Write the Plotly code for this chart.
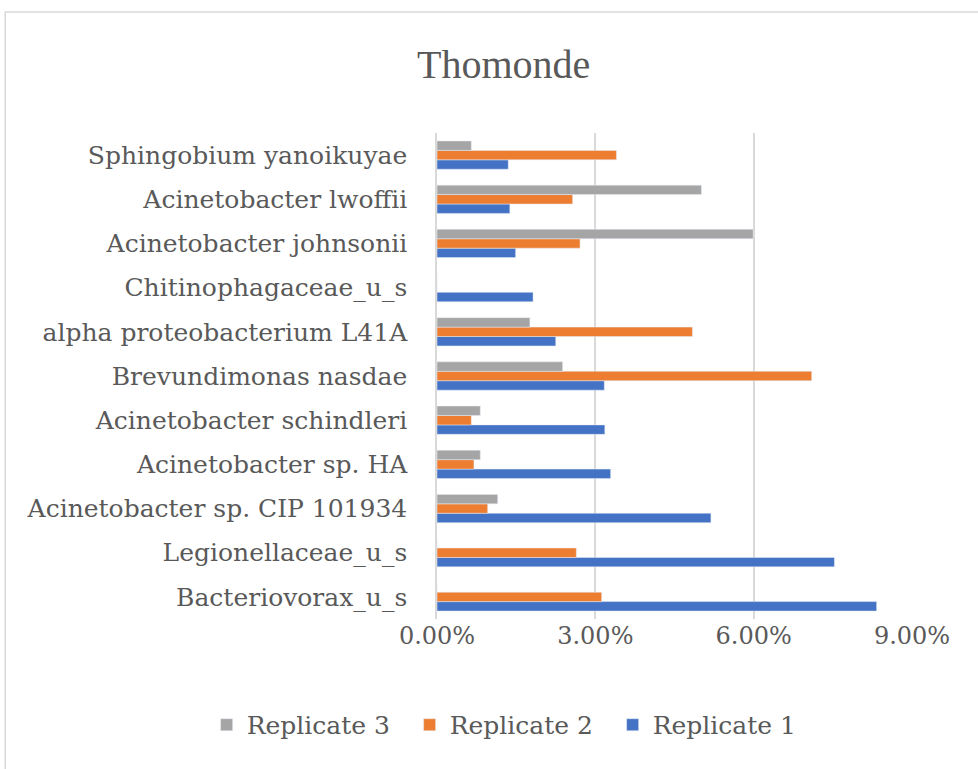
import plotly.graph_objects as go

categories = [
    "Bacteriovorax_u_s",
    "Legionellaceae_u_s",
    "Acinetobacter sp. CIP 101934",
    "Acinetobacter sp. HA",
    "Acinetobacter schindleri",
    "Brevundimonas nasdae",
    "alpha proteobacterium L41A",
    "Chitinophagaceae_u_s",
    "Acinetobacter johnsonii",
    "Acinetobacter lwoffii",
    "Sphingobium yanoikuyae",
]
replicate1 = [0.0833, 0.0753, 0.0519, 0.0329, 0.0318, 0.0317, 0.0225, 0.0182, 0.0149, 0.0138, 0.0135]
replicate2 = [0.0312, 0.0264, 0.0096, 0.0070, 0.0065, 0.0710, 0.0484, 0.0, 0.0271, 0.0257, 0.0340]
replicate3 = [0.0, 0.0, 0.0115, 0.0082, 0.0082, 0.0238, 0.0176, 0.0, 0.0599, 0.0501, 0.0065]
tick_vals = [0, 0.03, 0.06, 0.09]
tick_text = ["0.00%", "3.00%", "6.00%", "9.00%"]

FONT = "DejaVu Serif"
TXT = "#595959"

fig = go.Figure()
fig.add_trace(go.Bar(y=categories, x=replicate1, orientation="h", name="Replicate 1",
                     marker=dict(color="#4472C4")))
fig.add_trace(go.Bar(y=categories, x=replicate2, orientation="h", name="Replicate 2",
                     marker=dict(color="#ED7D31")))
fig.add_trace(go.Bar(y=categories, x=replicate3, orientation="h", name="Replicate 3",
                     marker=dict(color="#A5A5A5")))

fig.update_layout(
    width=978, height=769,
    paper_bgcolor="white", plot_bgcolor="white",
    barmode="group", bargap=0.36, bargroupgap=0,
    margin=dict(l=437, r=66, t=133, b=150, autoexpand=False),
    title=dict(text="Thomonde", x=0.515, xref="container", y=0.917, yref="container",
               xanchor="center", yanchor="middle",
               font=dict(family="Liberation Serif", size=40, color=TXT)),
    font=dict(family=FONT, color=TXT),
    showlegend=True,
    legend=dict(orientation="h", traceorder="reversed", x=-0.485, xref="paper", xanchor="left",
                y=-0.218, yref="paper", yanchor="middle", entrywidth=158, entrywidthmode="pixels",
                font=dict(family=FONT, size=25, color=TXT)),
    xaxis=dict(range=[0, 0.09], tickvals=tick_vals, ticktext=tick_text,
               showgrid=True, gridcolor="#D9D9D9", gridwidth=1.5,
               zeroline=False, showline=False, ticks="", automargin=False,
               tickfont=dict(family=FONT, size=24, color=TXT)),
    yaxis=dict(showgrid=False, zeroline=False, showline=True, linecolor="#D9D9D9", linewidth=1.5,
               ticks="", ticklabelstandoff=23, automargin=False,
               tickfont=dict(family=FONT, size=25, color=TXT)),
    shapes=[dict(type="rect", xref="paper", yref="paper", x0=-0.909, x1=1.2, y0=-0.4, y1=1.249,
                 line=dict(color="#D9D9D9", width=1.5), fillcolor="rgba(0,0,0,0)", layer="below")],
)

fig.write_html("out.html", config={"displayModeBar": False})

with open("out.html", "r", encoding="utf-8") as f:
    html = f.read()
html = html.replace("<body>", '<body style="margin:0;padding:0;overflow:hidden">', 1)
with open("out.html", "w", encoding="utf-8") as f:
    f.write(html)
